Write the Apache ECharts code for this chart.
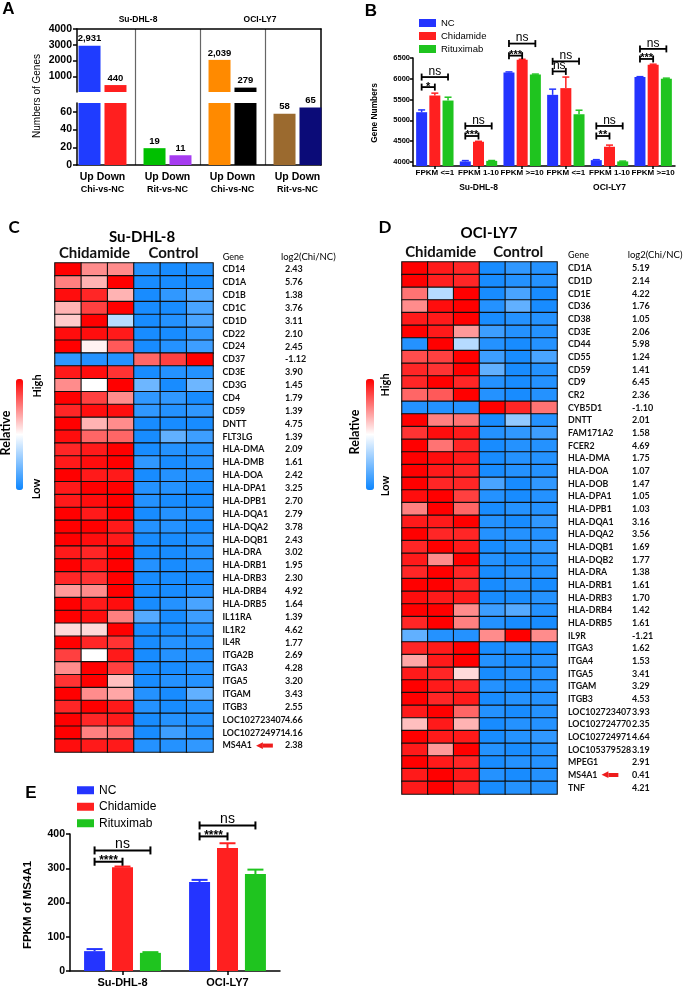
<!DOCTYPE html>
<html>
<head>
<meta charset="utf-8">
<title>Chidamide RNA-seq figure</title>
<script src="https://cdn.jsdelivr.net/npm/echarts@6/dist/echarts.min.js"></script>
<style>
  html, body { margin: 0; padding: 0; background: #fff; }
  #fig { width: 687px; height: 988px; }
</style>
</head>
<body>
<div id="fig"></div>
<script>
// ---- Panel A: numbers of differentially expressed genes
const aKeys = ['Su Chi', 'Su Rit', 'OCI Chi', 'OCI Rit'];
const aCompare = ['Chi-vs-NC', 'Rit-vs-NC', 'Chi-vs-NC', 'Rit-vs-NC'];
const aCellLines = ['Su-DHL-8', 'OCI-LY7'];
const aUp = [2931, 19, 2039, 58];
const aDown = [440, 11, 279, 65];

// ---- Panel B: gene numbers per FPKM bin (mean and SEM)
const bKeys = ['Su 1', 'Su 2', 'Su 3', 'OCI 1', 'OCI 2', 'OCI 3'];
const bBins = ['FPKM <=1', 'FPKM 1-10', 'FPKM >=10', 'FPKM <=1', 'FPKM 1-10', 'FPKM >=10'];
const bCellLines = ['Su-DHL-8', 'OCI-LY7'];
const bTicks = [4000, 4500, 5000, 5500, 6000, 6500];
const bNC = [5195, 4010, 6153, 5613, 4041, 6041];
const bNCErr = [55, 20, 12, 137, 12, 10];
const bChi = [5597, 4484, 6460, 5775, 4363, 6339];
const bChiErr = [57, 10, 10, 266, 40, 12];
const bRit = [5476, 4024, 6105, 5146, 4010, 6000];
const bRitErr = [80, 8, 8, 97, 8, 15];
// [bin, bracket height, from bar, to bar, text]  bars: 0 NC, 1 Chidamide, 2 Rituximab
const bSig = [
  [0, 5800, 0, 1, '*'], [0, 6041, 0, 2, 'ns'],
  [1, 4622, 0, 1, '***'], [1, 4864, 0, 2, 'ns'],
  [2, 6557, 0, 1, '***'], [2, 6847, 0, 2, 'ns'],
  [3, 6177, 0, 1, 'ns'], [3, 6419, 0, 2, 'ns'],
  [4, 4622, 0, 1, '**'], [4, 4864, 0, 2, 'ns'],
  [5, 6477, 0, 1, '***'], [5, 6719, 0, 2, 'ns']
];

// ---- Panel E: FPKM of MS4A1
const eCellLines = ['Su-DHL-8', 'OCI-LY7'];
const eNC = [58, 260];
const eNCErr = [6, 6];
const eChi = [303, 359];
const eChiErr = [2, 14];
const eRit = [53, 283];
const eRitErr = [2, 13];
const eSig = [[0, 319, 0, 1, '****'], [0, 352, 0, 2, 'ns'], [1, 393, 0, 1, '****'], [1, 425, 0, 2, 'ns']];

// ---- Panels C and D: relative expression heatmaps (3 Chidamide + 3 control columns)
const hmColumns = ['Chi 1', 'Chi 2', 'Chi 3', 'NC 1', 'NC 2', 'NC 3'];
const hmGroups = ['Chidamide', 'Control'];

const cGenes = ['CD14', 'CD1A', 'CD1B', 'CD1C', 'CD1D', 'CD22', 'CD24', 'CD37', 'CD3E', 'CD3G', 'CD4', 'CD59',
  'DNTT', 'FLT3LG', 'HLA-DMA', 'HLA-DMB', 'HLA-DOA', 'HLA-DPA1', 'HLA-DPB1', 'HLA-DQA1', 'HLA-DQA2', 'HLA-DQB1',
  'HLA-DRA', 'HLA-DRB1', 'HLA-DRB3', 'HLA-DRB4', 'HLA-DRB5', 'IL11RA', 'IL1R2', 'IL4R', 'ITGA2B', 'ITGA3',
  'ITGA5', 'ITGAM', 'ITGB3', 'LOC102723407', 'LOC102724971', 'MS4A1'];
const cLog2 = [2.43, 5.76, 1.38, 3.76, 3.11, 2.10, 2.45, -1.12, 3.90, 1.45, 1.79, 1.39,
  4.75, 1.39, 2.09, 1.61, 2.42, 3.25, 2.70, 2.79, 3.78, 2.43,
  3.02, 1.95, 2.30, 4.92, 1.64, 1.39, 4.62, 1.77, 2.69, 4.28,
  3.20, 3.43, 2.55, 4.66, 4.16, 2.38];
const cHeat = [
  [1.0, 0.45, 0.45, -0.9, -0.95, -0.9],
  [0.5, 0.3, 1.0, -0.95, -0.95, -0.95],
  [0.95, 0.85, 0.3, -0.95, -0.85, -0.7],
  [0.3, 0.75, 1.0, -0.95, -0.95, -0.75],
  [0.2, 1.0, -0.3, -0.95, -0.9, -0.75],
  [0.95, 0.95, 0.9, -0.95, -0.95, -0.85],
  [1.0, 0.05, 0.65, -0.95, -0.9, -0.8],
  [-0.85, -0.9, -0.9, 0.6, 0.75, 1.0],
  [0.9, 0.95, 0.8, -0.95, -0.9, -0.9],
  [0.45, 0.0, 1.0, -0.6, -0.95, -0.6],
  [1.0, 0.75, 0.45, -0.85, -0.85, -0.95],
  [0.85, 0.95, 0.95, -0.85, -0.9, -0.85],
  [1.0, 0.3, 0.45, -0.95, -0.95, -0.95],
  [0.95, 0.6, 0.6, -0.95, -0.65, -0.8],
  [0.85, 0.9, 1.0, -0.95, -0.9, -0.9],
  [0.9, 0.95, 1.0, -0.85, -0.95, -0.9],
  [1.0, 0.9, 0.9, -0.95, -0.9, -0.9],
  [0.9, 1.0, 1.0, -0.9, -0.9, -0.95],
  [0.9, 0.95, 1.0, -0.9, -0.95, -0.95],
  [1.0, 0.9, 1.0, -0.95, -0.9, -0.9],
  [1.0, 1.0, 0.9, -0.9, -0.9, -0.95],
  [1.0, 0.95, 0.9, -0.95, -0.95, -0.9],
  [0.9, 0.85, 1.0, -0.95, -0.95, -0.9],
  [1.0, 0.9, 1.0, -0.9, -0.95, -0.9],
  [0.85, 0.8, 1.0, -0.95, -0.95, -0.95],
  [0.4, 0.45, 1.0, -0.95, -0.95, -0.9],
  [1.0, 0.9, 0.95, -0.95, -0.9, -0.75],
  [1.0, 0.95, 0.5, -0.7, -0.95, -0.8],
  [0.15, 0.15, 1.0, -0.95, -0.95, -0.9],
  [1.0, 0.85, 0.8, -0.95, -0.9, -0.9],
  [0.75, 0.0, 0.9, -0.95, -0.9, -0.9],
  [0.45, 1.0, 0.75, -0.95, -0.95, -0.9],
  [0.8, 1.0, 0.25, -0.95, -0.9, -0.9],
  [1.0, 0.45, 0.35, -0.9, -0.95, -0.65],
  [0.85, 1.0, 0.9, -0.9, -0.95, -0.9],
  [1.0, 0.85, 0.9, -0.95, -0.9, -0.9],
  [1.0, 0.5, 0.55, -0.95, -0.8, -0.9],
  [0.95, 0.9, 0.9, -0.9, -0.9, -0.85]
];

const dGenes = ['CD1A', 'CD1D', 'CD1E', 'CD36', 'CD38', 'CD3E', 'CD44', 'CD55', 'CD59', 'CD9', 'CR2', 'CYB5D1',
  'DNTT', 'FAM171A2', 'FCER2', 'HLA-DMA', 'HLA-DOA', 'HLA-DOB', 'HLA-DPA1', 'HLA-DPB1', 'HLA-DQA1', 'HLA-DQA2',
  'HLA-DQB1', 'HLA-DQB2', 'HLA-DRA', 'HLA-DRB1', 'HLA-DRB3', 'HLA-DRB4', 'HLA-DRB5', 'IL9R', 'ITGA3', 'ITGA4',
  'ITGA5', 'ITGAM', 'ITGB3', 'LOC102723407', 'LOC102724770', 'LOC102724971', 'LOC105379528', 'MPEG1', 'MS4A1', 'TNF'];
const dLog2 = [5.19, 2.14, 4.22, 1.76, 1.05, 2.06, 5.98, 1.24, 1.41, 6.45, 2.36, -1.10,
  2.01, 1.58, 4.69, 1.75, 1.07, 1.47, 1.05, 1.03, 3.16, 3.56,
  1.69, 1.77, 1.38, 1.61, 1.70, 1.42, 1.61, -1.21, 1.62, 1.53,
  3.41, 3.29, 4.53, 3.93, 2.35, 4.64, 3.19, 2.91, 0.41, 4.21];
const dHeat = [
  [1.0, 0.9, 0.85, -0.95, -0.85, -0.9],
  [1.0, 0.88, 0.85, -0.95, -0.9, -0.9],
  [0.55, -0.3, 1.0, -0.95, -0.75, -0.95],
  [0.45, 0.95, 1.0, -0.9, -0.65, -0.95],
  [0.9, 0.9, 1.0, -0.95, -0.9, -0.9],
  [1.0, 0.9, 0.4, -0.8, -0.9, -0.9],
  [-0.9, 1.0, -0.3, -0.9, -0.95, -0.9],
  [0.7, 0.75, 1.0, -0.8, -0.95, -0.75],
  [0.85, 0.8, 1.0, -0.65, -0.95, -0.9],
  [0.85, 1.0, 0.85, -0.9, -0.95, -0.9],
  [0.6, 0.65, 1.0, -0.9, -0.95, -0.9],
  [-0.9, -0.9, -0.9, 1.0, 0.85, 0.55],
  [1.0, 0.5, 0.55, -0.95, -0.45, -0.9],
  [0.8, 0.95, 0.9, -0.9, -0.85, -0.8],
  [1.0, 0.55, 0.85, -0.95, -0.9, -0.9],
  [1.0, 0.95, 0.9, -0.95, -0.9, -0.9],
  [1.0, 0.9, 0.85, -0.95, -0.9, -0.9],
  [1.0, 0.85, 0.85, -0.75, -0.95, -0.85],
  [0.95, 1.0, 0.75, -0.9, -0.95, -0.9],
  [0.5, 1.0, 0.6, -0.95, -0.9, -0.9],
  [0.9, 0.9, 1.0, -0.9, -0.95, -0.85],
  [1.0, 0.85, 0.85, -0.9, -0.9, -0.9],
  [0.85, 1.0, 0.9, -0.95, -0.9, -0.85],
  [0.9, 0.45, 1.0, -0.9, -0.95, -0.9],
  [0.85, 1.0, 0.85, -0.95, -0.9, -0.9],
  [1.0, 1.0, 0.85, -0.95, -0.9, -0.95],
  [0.95, 0.9, 0.9, -0.95, -0.95, -0.9],
  [1.0, 1.0, 0.45, -0.8, -0.7, -0.9],
  [0.85, 1.0, 0.5, -0.9, -0.95, -0.95],
  [-0.65, -0.9, -0.9, 0.45, 1.0, 0.45],
  [0.85, 0.9, 1.0, -0.95, -0.9, -0.95],
  [0.35, 0.9, 1.0, -0.9, -0.95, -0.9],
  [0.9, 0.85, 0.15, -0.95, -0.9, -0.9],
  [1.0, 0.9, 0.85, -0.9, -0.95, -0.9],
  [1.0, 0.85, 0.9, -0.95, -0.9, -0.9],
  [0.9, 1.0, 0.6, -0.9, -0.95, -0.9],
  [0.25, 0.9, 0.3, -0.95, -0.9, -0.9],
  [1.0, 0.9, 0.9, -0.95, -0.9, -0.85],
  [0.9, 0.4, 1.0, -0.9, -0.95, -0.9],
  [1.0, 0.9, 0.85, -0.95, -0.9, -0.9],
  [0.9, 1.0, 0.9, -0.9, -0.95, -0.9],
  [0.9, 1.0, 0.85, -0.95, -0.9, -0.9]
];

// ---- styles
const GP = "'Liberation Sans', Arial, sans-serif";
const HM = "Lato, 'Open Sans', sans-serif";
const BLACK = '#000';
const ncColor = '#2434ff';
const chiColor = '#ff2020';
const ritColor = '#1fc41f';
const aUpColors = ['#1f3cff', '#00c000', '#ff8a00', '#9b6a2f'];
const aDownColors = ['#ff1f1f', '#a63cf0', '#000000', '#0b0b78'];
const heatColors = ['#0c86ff', '#ffffff', '#ff0000'];
const arrowRed = '#ee1c1c';

const off = { show: false };
const lineBlack = { show: true, onZero: false, lineStyle: { color: BLACK, width: 1.5 } };
const plain = v => String(v);
function tickBlack(len, extra) {
    return Object.assign({ show: true, length: len, lineStyle: { color: BLACK, width: 1.5 } }, extra || {});
}
function gpLabel(size, extra) {
    return Object.assign({ color: BLACK, fontFamily: GP, fontWeight: 'bold', fontSize: size }, extra || {});
}

// error bars (mean + SEM) drawn through the axes, slot = bar position in the group
function errSeries(xi, yi, means, errs, slot, step, capW, lw, color) {
    return {
        type: 'custom', xAxisIndex: xi, yAxisIndex: yi, clip: false, silent: true, z: 4,
        data: means.map((m, i) => [i, m + errs[i], m]),
        renderItem: function (params, api) {
            const top = api.coord([api.value(0), api.value(1)]);
            const base = api.coord([api.value(0), api.value(2)]);
            const x = top[0] + (slot - 1) * step;
            const st = { stroke: color, lineWidth: lw };
            return { type: 'group', children: [
                { type: 'line', shape: { x1: x, y1: base[1], x2: x, y2: top[1] }, style: st },
                { type: 'line', shape: { x1: x - capW, y1: top[1], x2: x + capW, y2: top[1] }, style: st }
            ] };
        }
    };
}

// significance brackets
function sigSeries(xi, yi, rows, step, capH, lw, nsSize, starSize) {
    return {
        type: 'custom', xAxisIndex: xi, yAxisIndex: yi, clip: false, silent: true, z: 5,
        data: rows.map(r => [r[0], r[1], r[2], r[3]]),
        renderItem: function (params, api) {
            const c = api.coord([api.value(0), api.value(1)]);
            const x1 = c[0] + (api.value(2) - 1) * step;
            const x2 = c[0] + (api.value(3) - 1) * step;
            const y = c[1];
            const text = rows[params.dataIndex][4];
            const star = text !== 'ns';
            const st = { stroke: BLACK, lineWidth: lw };
            return { type: 'group', children: [
                { type: 'line', shape: { x1: x1, y1: y, x2: x2, y2: y }, style: st },
                { type: 'line', shape: { x1: x1, y1: y - capH, x2: x1, y2: y + capH }, style: st },
                { type: 'line', shape: { x1: x2, y1: y - capH, x2: x2, y2: y + capH }, style: st },
                { type: 'text', style: {
                    text: text, x: (x1 + x2) / 2, y: star ? y + starSize * 0.45 : y + 0.5,
                    align: 'center', verticalAlign: 'bottom', fill: BLACK, fontFamily: GP,
                    fontSize: star ? starSize : nsSize, fontWeight: star ? 'bold' : 'normal'
                } }
            ] };
        }
    };
}

function geneAxis(gridIndex, genes, margin) {
    return {
        type: 'category', gridIndex: gridIndex, data: genes, inverse: true, position: 'right',
        axisLine: off, axisTick: off,
        axisLabel: {
            interval: 0, margin: margin, color: '#111', fontFamily: HM, fontWeight: 'bold', fontSize: 8.8,
            formatter: v => v === 'MS4A1' ? v + '{ah|\u25C0}{ab|}' : v,
            rich: {
                ah: { color: arrowRed, fontFamily: 'DejaVu Sans', fontSize: 9, padding: [0, 0, 0, 4], verticalAlign: 'middle' },
                ab: { backgroundColor: arrowRed, width: 10, height: 4, verticalAlign: 'middle' }
            }
        }
    };
}
function log2Axis(gridIndex, genes, log2, offset, margin) {
    return {
        type: 'category', gridIndex: gridIndex, data: genes, inverse: true, position: 'right', offset: offset,
        axisLine: off, axisTick: off,
        axisLabel: { interval: 0, margin: margin, color: '#111', fontFamily: HM, fontWeight: 'bold', fontSize: 9,
            formatter: (v, i) => log2[i].toFixed(2) }
    };
}
function groupAxis(gridIndex) {
    return { type: 'category', gridIndex: gridIndex, position: 'top', data: hmGroups, axisLine: off, axisTick: off,
        axisLabel: { interval: 0, hideOverlap: false, margin: 2, color: '#111', fontFamily: HM, fontWeight: 'bold', fontSize: 15 } };
}
const toCells = m => m.flatMap((row, r) => row.map((v, c) => [c, r, v]));

const grid = [
    { left: 77, top: 29, width: 244, height: 136 },   // 0 A frame
    { left: 70, top: 29, width: 260, height: 136 },   // 1 A separators
    { left: 70, top: 29, width: 260, height: 63 },    // 2 A upper segment
    { left: 70, top: 103, width: 260, height: 62 },   // 3 A lower segment
    { left: 413, top: 58, width: 262, height: 108 },  // 4 B
    { left: 55, top: 263, width: 158, height: 489 },  // 5 C
    { left: 402, top: 262, width: 155, height: 532 }, // 6 D
    { left: 70, top: 834, width: 210, height: 138 }   // 7 E
];

const xAxis = [
    { type: 'category', gridIndex: 0, position: 'top', data: aCellLines, axisLine: lineBlack, axisTick: off,
      axisLabel: gpLabel(8.5, { margin: 5, interval: 0 }) },
    { type: 'category', gridIndex: 0, position: 'bottom', data: aCellLines, axisLine: lineBlack, axisTick: off, axisLabel: off },
    { type: 'category', gridIndex: 1, data: aKeys, axisLine: off, axisTick: off, axisLabel: off,
      splitLine: { show: true, interval: 0, showMinLine: false, showMaxLine: false, lineStyle: { color: '#666', width: 1.2 } } },
    { type: 'category', gridIndex: 2, data: aKeys, show: false },
    { type: 'category', gridIndex: 3, data: aKeys, axisLine: off, axisTick: off,
      axisLabel: { interval: 0, margin: 5, formatter: (v, i) => '{a|Up Down}\n{b|' + aCompare[i] + '}',
        rich: { a: gpLabel(10.5, { lineHeight: 14 }), b: gpLabel(9, { lineHeight: 12 }) } } },
    { type: 'category', gridIndex: 4, data: bKeys, axisLine: lineBlack, axisTick: tickBlack(3, { alignWithLabel: true }),
      axisLabel: gpLabel(8, { interval: 0, margin: 3, formatter: (v, i) => bBins[i] }) },
    { type: 'category', gridIndex: 4, position: 'bottom', offset: 14, data: bCellLines, axisLine: off, axisTick: off,
      axisLabel: gpLabel(8.5, { margin: 3, interval: 0 }) },
    { type: 'category', gridIndex: 5, data: hmColumns, show: false },
    groupAxis(5),
    { type: 'category', gridIndex: 6, data: hmColumns, show: false },
    groupAxis(6),
    { type: 'category', gridIndex: 7, data: eCellLines, axisLine: lineBlack, axisTick: tickBlack(4, { alignWithLabel: true }),
      axisLabel: gpLabel(11, { margin: 6, interval: 0 }) }
];

const yAxis = [
    { type: 'value', gridIndex: 0, position: 'right', min: 0, max: 1, axisLine: lineBlack, axisTick: off, axisLabel: off, splitLine: off },
    { type: 'value', gridIndex: 1, min: 0, max: 1, show: false },
    { type: 'value', gridIndex: 2, min: 0, max: 4000, interval: 1000, offset: -7, axisLine: lineBlack, axisTick: tickBlack(4),
      axisLabel: gpLabel(10.5, { margin: 5, showMinLabel: false, formatter: plain }), splitLine: off },
    { type: 'value', gridIndex: 3, min: 0, max: 70, interval: 20, offset: -7, axisLine: lineBlack, axisTick: tickBlack(4),
      axisLabel: gpLabel(10.5, { margin: 5, showMaxLabel: false, formatter: plain }), splitLine: off },
    { type: 'value', gridIndex: 4, min: 3900, max: 6500, axisLine: lineBlack,
      axisTick: tickBlack(3, { customValues: bTicks }),
      axisLabel: gpLabel(7.5, { margin: 3, customValues: bTicks, formatter: plain }), splitLine: off },
    geneAxis(5, cGenes, 9.5),
    log2Axis(5, cGenes, cLog2, 62, 10),
    geneAxis(6, dGenes, 11),
    log2Axis(6, dGenes, dLog2, 64, 11),
    { type: 'value', gridIndex: 7, min: 0, max: 400, interval: 100, axisLine: lineBlack, axisTick: tickBlack(4),
      axisLabel: gpLabel(10.5, { margin: 5, formatter: plain }), splitLine: off }
];

const series = [];
// Panel A: upper segment (0-4000) and lower segment (0-70) of the broken axis
const upperLabel = { show: true, position: 'top', distance: 2, color: BLACK, fontFamily: GP, fontWeight: 'bold', fontSize: 9.5,
    formatter: p => Number(p.value).toLocaleString('en-US') };
const lowerLabel = { show: true, position: 'top', distance: 2, color: BLACK, fontFamily: GP, fontWeight: 'bold', fontSize: 9.5,
    formatter: p => (p.value <= 70 ? String(p.value) : '') };
function aData(vals, colors, keep) {
    return vals.map((v, i) => keep(v) ? { value: v, itemStyle: { color: colors[i] } } : '-');
}
series.push({ type: 'bar', xAxisIndex: 3, yAxisIndex: 2, barWidth: 22, barGap: '18%', silent: true,
    data: aData(aUp, aUpColors, v => v > 70), label: upperLabel });
series.push({ type: 'bar', xAxisIndex: 3, yAxisIndex: 2, barWidth: 22, barGap: '18%', silent: true,
    data: aData(aDown, aDownColors, v => v > 70), label: upperLabel });
series.push({ type: 'bar', xAxisIndex: 4, yAxisIndex: 3, barWidth: 22, barGap: '18%', silent: true,
    data: aData(aUp, aUpColors, () => true), label: lowerLabel });
series.push({ type: 'bar', xAxisIndex: 4, yAxisIndex: 3, barWidth: 22, barGap: '18%', silent: true,
    data: aData(aDown, aDownColors, () => true), label: lowerLabel });

// Panel B
const bStep = 11 * 1.2;
[['NC', bNC, ncColor], ['Chidamide', bChi, chiColor], ['Rituximab', bRit, ritColor]].forEach(s => {
    series.push({ name: s[0], type: 'bar', xAxisIndex: 5, yAxisIndex: 4, barWidth: 11, barGap: '20%', silent: true,
        itemStyle: { color: s[2] }, data: s[1] });
});
series.push(errSeries(5, 4, bNC, bNCErr, 0, bStep, 3.5, 1.5, ncColor));
series.push(errSeries(5, 4, bChi, bChiErr, 1, bStep, 3.5, 1.5, chiColor));
series.push(errSeries(5, 4, bRit, bRitErr, 2, bStep, 3.5, 1.5, ritColor));
series.push(sigSeries(5, 4, bSig, bStep, 3.5, 1.8, 12, 11));

// Panel E
const eStep = 21 * 1.33;
[['NC', eNC, ncColor], ['Chidamide', eChi, chiColor], ['Rituximab', eRit, ritColor]].forEach(s => {
    series.push({ name: s[0], type: 'bar', xAxisIndex: 11, yAxisIndex: 9, barWidth: 21, barGap: '33%', silent: true,
        itemStyle: { color: s[2] }, data: s[1] });
});
series.push(errSeries(11, 9, eNC, eNCErr, 0, eStep, 8, 2, ncColor));
series.push(errSeries(11, 9, eChi, eChiErr, 1, eStep, 8, 2, chiColor));
series.push(errSeries(11, 9, eRit, eRitErr, 2, eStep, 8, 2, ritColor));
series.push(sigSeries(11, 9, eSig, eStep, 4, 2, 14, 12));

// Panels C and D heatmaps
const cIndex = series.length;
series.push({ type: 'heatmap', xAxisIndex: 7, yAxisIndex: 5, data: toCells(cHeat), silent: true,
    itemStyle: { borderColor: '#111', borderWidth: 1.1 }, emphasis: { disabled: true } });
const dIndex = series.length;
series.push({ type: 'heatmap', xAxisIndex: 9, yAxisIndex: 7, data: toCells(dHeat), silent: true,
    itemStyle: { borderColor: '#111', borderWidth: 1.1 }, emphasis: { disabled: true } });

function colorBar(seriesIndex, left, width) {
    return { type: 'continuous', seriesIndex: seriesIndex, min: -1, max: 1, inRange: { color: heatColors },
        orient: 'vertical', left: left, top: 379, itemWidth: width, itemHeight: 111, padding: 0,
        calculable: false, hoverLink: false };
}

function txt(text, x, y, size, weight, family, rotate, align) {
    return { type: 'text', x: x, y: y, rotation: rotate ? Math.PI / 2 : 0, silent: true,
        style: { text: text, fill: '#000', fontSize: size, fontWeight: weight, fontFamily: family,
            align: align || 'center', verticalAlign: 'middle', textAlign: align || 'center', textVerticalAlign: 'middle' } };
}

const legendBase = { orient: 'vertical', padding: 0, itemGap: 0, icon: 'rect', selectedMode: false,
    data: ['NC', 'Chidamide', 'Rituximab'] };

const option = {
    animation: false,
    backgroundColor: '#fff',
    grid: grid,
    xAxis: xAxis,
    yAxis: yAxis,
    series: series,
    visualMap: [colorBar(cIndex, 16, 7), colorBar(dIndex, 366, 8)],
    legend: [
        Object.assign({}, legendBase, { left: 419, top: 16.5, itemWidth: 17, itemHeight: 8, itemTextGap: 2,
            textStyle: { fontFamily: GP, fontSize: 9.5, color: BLACK, lineHeight: 13 } }),
        Object.assign({}, legendBase, { left: 77, top: 782, itemWidth: 17, itemHeight: 8, itemTextGap: 6,
            textStyle: { fontFamily: GP, fontSize: 12, color: BLACK, lineHeight: 16.5 } })
    ],
    graphic: [
        txt('A', 8.5, 9.5, 17, 'bold', GP),
        txt('B', 371, 11, 17, 'bold', GP),
        txt('C', 14, 228, 17, 'bold', HM),
        txt('D', 385, 228, 17, 'bold', HM),
        txt('E', 31, 793, 17, 'bold', GP),
        txt('Numbers of Genes', 37, 96, 10, 'normal', GP, true),
        txt('Gene Numbers', 375, 113, 8.4, 'bold', GP, true),
        txt('FPKM of MS4A1', 28, 905, 11.5, 'bold', GP, true),
        txt('Su-DHL-8', 142, 237, 15, 'bold', HM),
        txt('OCI-LY7', 489, 233, 15, 'bold', HM),
        txt('Gene', 222.7, 257, 9, 'normal', HM, false, 'left'),
        txt('log2(Chi/NC)', 281, 257, 9.5, 'normal', HM, false, 'left'),
        txt('Gene', 568, 255, 9, 'normal', HM, false, 'left'),
        txt('log2(Chi/NC)', 627.7, 255, 9.5, 'normal', HM, false, 'left'),
        txt('Relative', 6, 433, 12.5, 'bold', HM, true),
        txt('High', 37.5, 386, 11, 'bold', HM, true),
        txt('Low', 36.5, 489, 11, 'bold', HM, true),
        txt('Relative', 355, 432, 12.5, 'bold', HM, true),
        txt('High', 385, 385, 11, 'bold', HM, true),
        txt('Low', 385, 486, 11, 'bold', HM, true)
    ]
};

const chart = echarts.init(document.getElementById('fig'), null, { renderer: 'canvas' });
chart.setOption(option);
</script>
</body>
</html>
